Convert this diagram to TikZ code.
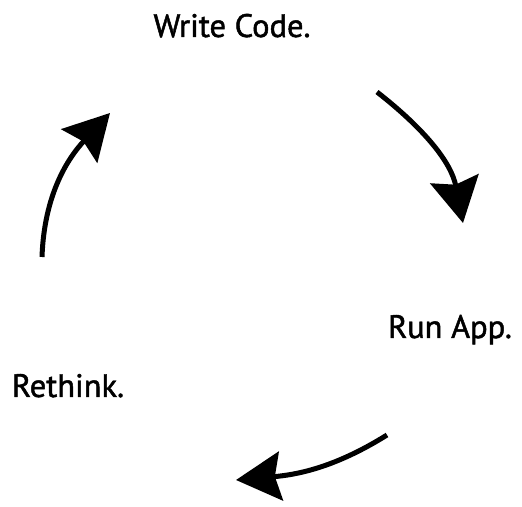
\documentclass[tikz,border=0pt]{standalone}
\usepackage{fontspec}
\setmainfont[FakeBold=1.5]{PT Sans}
\usetikzlibrary{arrows.meta}
\begin{document}
\begin{tikzpicture}[x=1pt,y=1pt,
  lbl/.style={anchor=base, inner sep=0pt, font=\fontsize{32.5}{36}\selectfont},
  cyc/.style={line width=5pt, -{Stealth[length=45pt,width=49pt,inset=6pt]}}]
\useasboundingbox (0,0) rectangle (522,506);
\node[lbl] (write) at (232,469) {Write Code.};
\node[lbl] (run) at (450,168) {Run App.};
\node[lbl] (think) at (68,109) {Rethink.};
\coordinate (a1s) at (377,414);
\coordinate (a1e) at (463,283);
\coordinate (a2s) at (236,26);
\coordinate (a3s) at (387,71);
\coordinate (a4s) at (42,249);
\coordinate (a4e) at (110,393);
\draw[cyc] (a1s) to[out=-38,in=101] (a1e);
\draw[cyc] (a3s) to[out=212,in=5] (a2s);
\draw[cyc] (a4s) to[out=88,in=-133] (a4e);
\end{tikzpicture}
\end{document}
